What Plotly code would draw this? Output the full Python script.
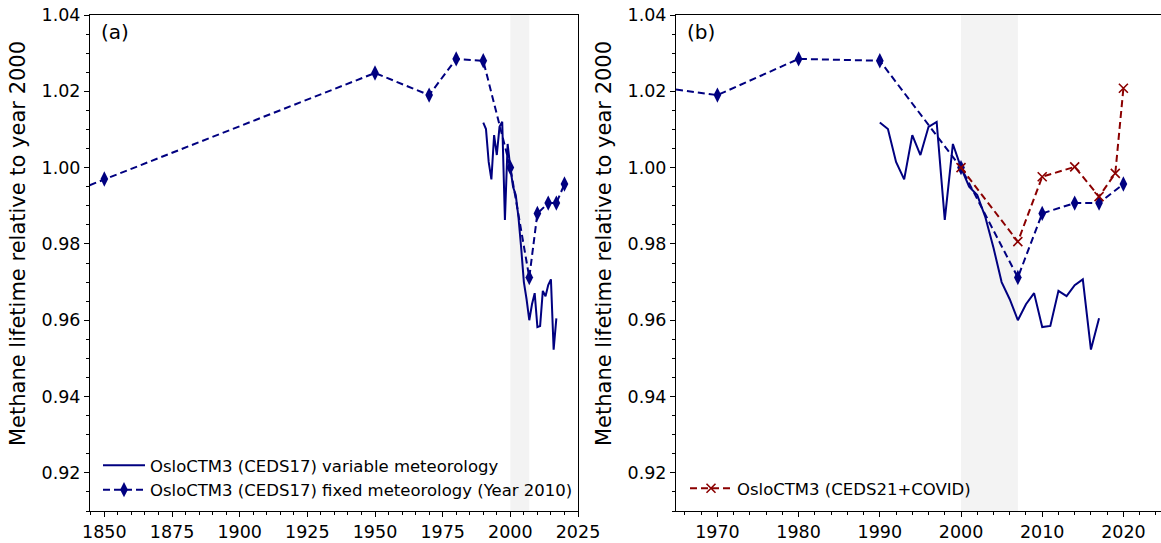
import plotly.graph_objects as go

# ---- data ----
var_years = list(range(1990, 2018))
var_vals = [1.0118, 1.0101, 1.0015, 0.9969, 1.0085, 1.0033, 1.0107, 1.0120,
            0.9863, 1.0062, 1.0000, 0.9950, 0.9928, 0.9870, 0.9790, 0.9700,
            0.9655, 0.9600, 0.9642, 0.9671, 0.9582, 0.9585, 0.9677, 0.9663,
            0.9692, 0.9707, 0.9523, 0.9605]

fixed_years = [1750, 1850, 1950, 1970, 1980, 1990, 2000, 2007, 2010, 2014, 2017, 2020]
fixed_vals = [0.969, 0.997, 1.0248, 1.019, 1.0285, 1.028, 1.000, 0.9712, 0.988, 0.9907, 0.9907, 0.9957]

covid_years = [2000, 2007, 2010, 2014, 2017, 2019, 2020]
covid_vals = [1.000, 0.9806, 0.9976, 1.0002, 0.9924, 0.9985, 1.0208]

shade_period = [2000, 2007]
y_ticks = [0.92, 0.94, 0.96, 0.98, 1.00, 1.02, 1.04]
xa_ticks = [1850, 1875, 1900, 1925, 1950, 1975, 2000, 2025]
xb_ticks = [1970, 1980, 1990, 2000, 2010, 2020]
y_title = "Methane lifetime relative to year 2000"

NAVY = "#000080"
DRED = "#8B0000"
FONT = "DejaVu Sans"
W, H = 1161, 543
TOP, BOT = 15, 511
PH = BOT - TOP
TICKSZ = 17.5
LEGSZ = 16.5

def py(px):
    return (BOT - px) / PH

fig = go.Figure()

for ax, show in (("", True), ("2", False)):
    fig.add_trace(go.Scatter(
        x=var_years, y=var_vals, mode="lines",
        line=dict(color=NAVY, width=2),
        name="OsloCTM3 (CEDS17) variable meteorology",
        xaxis="x" + ax, yaxis="y" + ax, showlegend=show, legend="legend"))
    fig.add_trace(go.Scatter(
        x=fixed_years, y=fixed_vals, mode="lines+markers",
        line=dict(color=NAVY, width=2, dash="7px,4px"),
        marker=dict(symbol="diamond-tall", size=11, color=NAVY),
        name="OsloCTM3 (CEDS17) fixed meteorology (Year 2010)",
        xaxis="x" + ax, yaxis="y" + ax, showlegend=show, legend="legend"))

fig.add_trace(go.Scatter(
    x=covid_years, y=covid_vals, mode="lines+markers",
    line=dict(color=DRED, width=2, dash="7px,4px"),
    marker=dict(symbol="x-thin", size=9, color=DRED, line=dict(color=DRED, width=1.6)),
    name="OsloCTM3 (CEDS21+COVID)",
    xaxis="x2", yaxis="y2", showlegend=True, legend="legend2"))

shapes = []
for xr in ("x", "x2"):
    shapes.append(dict(type="rect", xref=xr, yref=xr.replace("x", "y") + " domain",
                       x0=shade_period[0], x1=shade_period[1], y0=0, y1=1,
                       fillcolor="#f3f3f3", line=dict(width=0), layer="below"))

common_y = dict(range=[0.910, 1.04], tickvals=y_ticks, tickformat=".2f",
                ticks="outside", ticklen=5, tickwidth=1, tickcolor="black",
                showline=True, linecolor="black", linewidth=1,
                showgrid=False, zeroline=False, automargin=False,
                minor=dict(dtick=0.005, tick0=0.9, ticks="outside", ticklen=3, tickcolor="black"),
                tickfont=dict(family=FONT, size=TICKSZ, color="black"))
common_x = dict(ticks="outside", ticklen=5, tickwidth=1, tickcolor="black",
                showline=True, linecolor="black", linewidth=1,
                showgrid=False, zeroline=False, automargin=False,
                tickfont=dict(family=FONT, size=TICKSZ, color="black"))

fig.update_layout(
    width=W, height=H,
    margin=dict(l=0, r=0, t=TOP, b=H - BOT, autoexpand=False),
    paper_bgcolor="white", plot_bgcolor="white",
    font=dict(family=FONT, color="black"),
    xaxis=dict(domain=[90 / W, 578 / W], range=[1844.7, 2025], tickvals=xa_ticks,
               mirror=True, anchor="y",
               minor=dict(dtick=5, tick0=1850, ticks="outside", ticklen=3, tickcolor="black"),
               **common_x),
    yaxis=dict(domain=[0, 1], anchor="x", mirror=True, **common_y),
    xaxis2=dict(domain=[676 / W, 1.0], range=[1964.9, 2024.63], tickvals=xb_ticks,
                mirror=True, anchor="y2",
                minor=dict(dtick=2, tick0=1970, ticks="outside", ticklen=3, tickcolor="black"),
                **common_x),
    yaxis2=dict(domain=[0, 1], anchor="x2", mirror=False, **common_y),
    shapes=shapes,
    legend=dict(x=98 / W, y=py(448), xanchor="left", yanchor="top",
                bgcolor="rgba(0,0,0,0)", itemwidth=42,
                font=dict(family=FONT, size=LEGSZ, color="black"), tracegroupgap=0),
    legend2=dict(x=685 / W, y=py(471), xanchor="left", yanchor="top",
                 bgcolor="rgba(0,0,0,0)", itemwidth=42,
                 font=dict(family=FONT, size=LEGSZ, color="black")),
    annotations=[
        dict(text="(a)", x=99 / W, y=py(32), xref="paper", yref="paper",
             xanchor="left", yanchor="middle", showarrow=False,
             font=dict(family=FONT, size=20, color="black")),
        dict(text="(b)", x=685 / W, y=py(32), xref="paper", yref="paper",
             xanchor="left", yanchor="middle", showarrow=False,
             font=dict(family=FONT, size=20, color="black")),
        dict(text=y_title, x=18 / W, y=py(244), xref="paper", yref="paper",
             xanchor="center", yanchor="middle", showarrow=False, textangle=-90,
             font=dict(family=FONT, size=21, color="black")),
        dict(text=y_title, x=604 / W, y=py(244), xref="paper", yref="paper",
             xanchor="center", yanchor="middle", showarrow=False, textangle=-90,
             font=dict(family=FONT, size=21, color="black")),
    ],
)

fig.write_html("out.html", config={"displayModeBar": False},
               post_script="document.body.style.margin='0';document.body.style.overflow='hidden';")
